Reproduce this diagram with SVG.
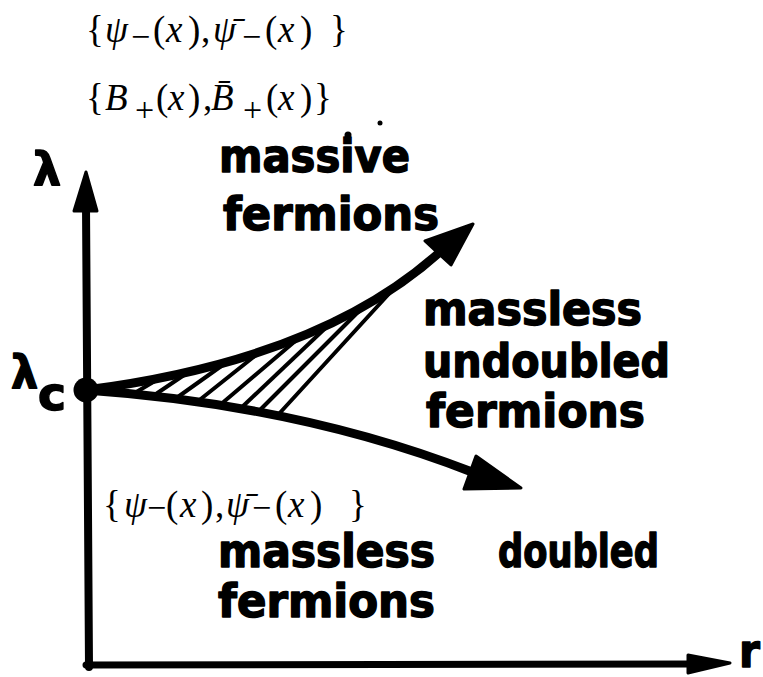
<svg xmlns="http://www.w3.org/2000/svg" width="763" height="677" viewBox="0 0 763 677">
<style>
.lbl{font-family:'DejaVu Sans Condensed','DejaVu Sans',sans-serif;font-weight:bold;font-size:47px;fill:#000;stroke:#000;stroke-width:1.4;stroke-linejoin:round}
.m{font-family:'Liberation Serif','Times New Roman',serif;font-size:37px;fill:#000}
.i{font-style:italic}
.s{font-size:34px}
.ax{stroke:#000;fill:none;stroke-linecap:round}
.cv{stroke:#000;fill:none;stroke-linecap:round;stroke-width:9}
.h{stroke:#000;stroke-width:4;stroke-linecap:round}
.ah{fill:#000;stroke:#000;stroke-width:3;stroke-linejoin:round}
</style>
<rect width="763" height="677" fill="#fff"/>
<g id="formulas">
<text id="f1" class="m" y="42"><tspan x="86">{</tspan><tspan class="i" x="105">ψ</tspan><tspan class="s" x="131" y="48">−</tspan><tspan x="153" y="42">(</tspan><tspan class="i" x="166">x</tspan><tspan x="188">)</tspan><tspan x="201">,</tspan><tspan class="i" x="213">ψ̄</tspan><tspan class="s" x="242" y="48">−</tspan><tspan x="265" y="42">(</tspan><tspan class="i" x="278">x</tspan><tspan x="300">)</tspan><tspan x="330">}</tspan></text>
<text id="f2" class="m" y="110"><tspan x="86">{</tspan><tspan class="i" x="105">B</tspan><tspan class="s" x="135" y="121">+</tspan><tspan x="156" y="110">(</tspan><tspan class="i" x="168">x</tspan><tspan x="188">)</tspan><tspan x="203">,</tspan><tspan class="i" x="211">B̄</tspan><tspan class="s" x="243" y="121">+</tspan><tspan x="266" y="110">(</tspan><tspan class="i" x="278">x</tspan><tspan x="300">)</tspan><tspan x="314">}</tspan></text>
<circle cx="348" cy="135" r="3.5" fill="#000"/>
<circle cx="380" cy="123" r="2.5" fill="#000"/>
<text id="f3" class="m" y="517"><tspan x="103">{</tspan><tspan class="i" x="124">ψ</tspan><tspan class="s" x="147" y="519">−</tspan><tspan x="166" y="517">(</tspan><tspan class="i" x="180">x</tspan><tspan x="201">)</tspan><tspan x="215">,</tspan><tspan class="i" x="226">ψ̄</tspan><tspan class="s" x="252" y="519">−</tspan><tspan x="275" y="517">(</tspan><tspan class="i" x="288">x</tspan><tspan x="310">)</tspan><tspan x="349">}</tspan></text>
</g>
<g id="axes">
<line class="ax" x1="86" y1="205" x2="89" y2="667" stroke-width="8"/>
<polygon class="ah" points="86,172 97,211 74,211"/>
<line class="ax" x1="86" y1="665" x2="695" y2="664" stroke-width="7"/>
<polygon class="ah" points="688,655 730,663 688,673"/>
<text id="lam" class="lbl" x="33" y="185" font-size="50" textLength="28" lengthAdjust="spacingAndGlyphs">λ</text>
<text id="r" class="lbl" x="739" y="667" font-size="42">r</text>
</g>
<g id="connectors">
<path class="cv" d="M86,390 Q320,360 440,252" stroke-width="10"/>
<polygon class="ah" points="473,224 425,241 451,265"/>
<path class="cv" d="M86,390 Q300,405 472,472"/>
<polygon class="ah" points="521,488 476,456 464,489"/>
<g id="hatch">
<line class="h" x1="110" y1="392" x2="124" y2="385"/>
<line class="h" x1="133" y1="394" x2="160" y2="378"/>
<line class="h" x1="153" y1="396" x2="190" y2="371"/>
<line class="h" x1="175" y1="399" x2="227" y2="362"/>
<line class="h" x1="197" y1="402" x2="261" y2="351"/>
<line class="h" x1="220" y1="405" x2="300" y2="337"/>
<line class="h" x1="240" y1="409" x2="335" y2="319"/>
<line class="h" x1="258" y1="412" x2="365" y2="305"/>
<line class="h" x1="277" y1="416" x2="397" y2="285"/>
</g>
</g>
<g id="lambda-c">
<circle cx="86" cy="390" r="12.5" fill="#000"/>
<text class="lbl" x="11" y="388" font-size="49" textLength="27" lengthAdjust="spacingAndGlyphs">λ</text>
<text class="lbl" x="38" y="410" textLength="28" lengthAdjust="spacingAndGlyphs">c</text>
</g>
<g id="massive">
<text class="lbl" x="219" y="172" textLength="191" lengthAdjust="spacingAndGlyphs">massive</text>
<text class="lbl" x="223" y="230" textLength="216" lengthAdjust="spacingAndGlyphs">fermions</text>
</g>
<g id="undoubled">
<text class="lbl" x="423" y="325" textLength="219" lengthAdjust="spacingAndGlyphs">massless</text>
<text class="lbl" x="423" y="377" textLength="247" lengthAdjust="spacingAndGlyphs">undoubled</text>
<text class="lbl" x="426" y="427" textLength="219" lengthAdjust="spacingAndGlyphs">fermions</text>
</g>
<g id="doubled">
<text class="lbl" x="218" y="567" textLength="217" lengthAdjust="spacingAndGlyphs">massless</text>
<text class="lbl" x="498" y="567" textLength="161" lengthAdjust="spacingAndGlyphs">doubled</text>
<text class="lbl" x="218" y="617" textLength="217" lengthAdjust="spacingAndGlyphs">fermions</text>
</g>
</svg>
